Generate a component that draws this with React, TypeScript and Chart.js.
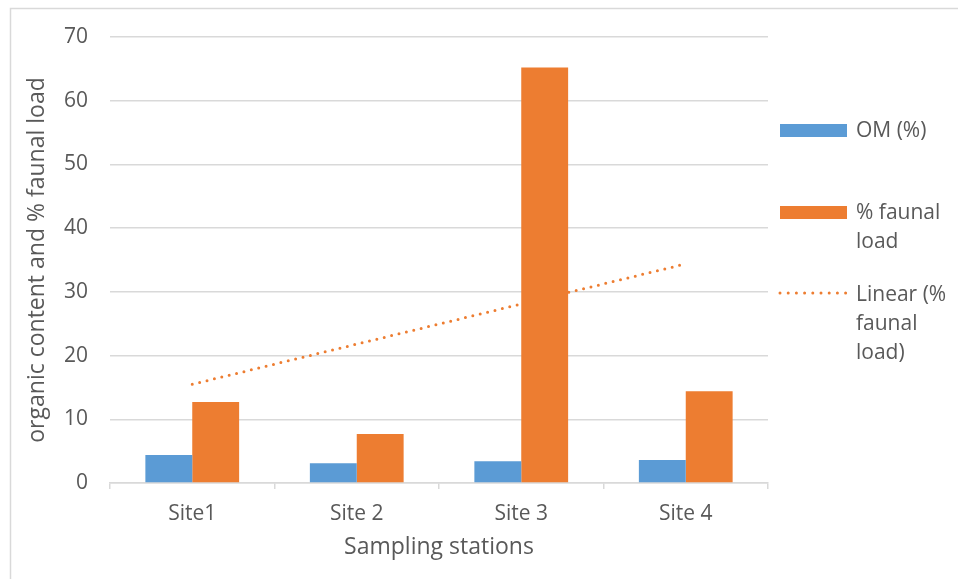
import React, { useEffect, useRef } from "react";
import { Chart, registerables } from "chart.js";

Chart.register(...registerables);

// Sampling stations and the measured series
const categories = ["Site1", "Site 2", "Site 3", "Site 4"];
const omValues = [4.4, 3.1, 3.4, 3.6];
const faunalValues = [12.7, 7.7, 65.2, 14.4];
// Linear trend of % faunal load, end points only (the line is straight between them)
const trendValues: (number | null)[] = [15.5, null, null, 34.4];

const seriesLabels = ["OM (%)", "% faunal load", "Linear (% faunal load)"];
const xTitle = "Sampling stations";
const yTitle = "organic content and % faunal load";
const yMin = 0;
const yMax = 70;
const yStep = 10;

const FONT = "'Open Sans', sans-serif";
const TEXT = "#595959";
const GRID = "#d9d9d9";
const BLUE = "#5B9BD5";
const ORANGE = "#ED7D31";

function wrapText(ctx: CanvasRenderingContext2D, text: string, maxWidth: number): string[] {
  const words = text.split(" ");
  const lines: string[] = [];
  let cur = "";
  for (const w of words) {
    const test = cur ? cur + " " + w : w;
    if (cur && ctx.measureText(test).width > maxWidth) {
      lines.push(cur);
      cur = w;
    } else {
      cur = test;
    }
  }
  if (cur) lines.push(cur);
  return lines;
}

// Thin frame around the chart
const framePlugin = {
  id: "frame",
  beforeDraw(chart: any) {
    const ctx = chart.ctx as CanvasRenderingContext2D;
    ctx.save();
    ctx.strokeStyle = GRID;
    ctx.lineWidth = 1.5;
    ctx.strokeRect(10.5, 8.5, 3000, 3000);
    ctx.restore();
  },
};

// Legend on the right with wrapped labels
const sideLegendPlugin = {
  id: "sideLegend",
  afterDraw(chart: any) {
    const ctx = chart.ctx as CanvasRenderingContext2D;
    ctx.save();
    ctx.font = `21px ${FONT}`;
    ctx.textBaseline = "middle";
    const swatchX = 780;
    const swatchW = 67;
    const textX = 856;
    const firstY = 131;
    const itemGap = 82;
    const lineH = 28.8;
    chart.data.datasets.forEach((ds: any, i: number) => {
      const y = firstY + i * itemGap;
      if (ds.type === "line") {
        ctx.strokeStyle = ds.borderColor;
        ctx.lineWidth = 3;
        ctx.lineCap = "round";
        ctx.setLineDash([0, 8.2]);
        ctx.beginPath();
        ctx.moveTo(swatchX, y - 2);
        ctx.lineTo(swatchX + swatchW, y - 2);
        ctx.stroke();
        ctx.setLineDash([]);
      } else {
        ctx.fillStyle = ds.backgroundColor;
        ctx.fillRect(swatchX, y - 7, swatchW, 13);
      }
      ctx.fillStyle = TEXT;
      const lines = wrapText(ctx, ds.label, 98);
      lines.forEach((ln, j) => ctx.fillText(ln, textX, y + j * lineH));
    });
    ctx.restore();
  },
};

export default function App() {
  const canvasRef = useRef<HTMLCanvasElement | null>(null);

  useEffect(() => {
    if (!canvasRef.current) return;
    const chart = new Chart(canvasRef.current, {
      type: "bar",
      data: {
        labels: categories,
        datasets: [
          {
            type: "bar",
            label: seriesLabels[0],
            data: omValues,
            backgroundColor: BLUE,
            categoryPercentage: 0.57,
            barPercentage: 1,
            order: 0,
          },
          {
            type: "bar",
            label: seriesLabels[1],
            data: faunalValues,
            backgroundColor: ORANGE,
            categoryPercentage: 0.57,
            barPercentage: 1,
            order: 0,
          },
          {
            type: "line",
            label: seriesLabels[2],
            data: trendValues,
            borderColor: ORANGE,
            backgroundColor: ORANGE,
            borderWidth: 3,
            borderCapStyle: "round",
            borderDash: [0, 7.6],
            pointRadius: 0,
            spanGaps: true,
            fill: false,
            order: 1,
          },
        ] as any,
      },
      options: {
        animation: false,
        responsive: false,
        devicePixelRatio: 1,
        layout: { padding: { top: 37, right: 190, bottom: 0, left: 0 } },
        plugins: {
          legend: { display: false },
          tooltip: { enabled: false },
        },
        scales: {
          x: {
            offset: true,
            grid: {
              offset: true,
              drawOnChartArea: false,
              drawTicks: true,
              tickLength: 6,
              color: GRID,
              lineWidth: 1.5,
            },
            border: { display: true, color: GRID, width: 1.5 },
            ticks: {
              color: TEXT,
              font: { family: FONT, size: 21 },
              padding: 12,
              maxRotation: 0,
            },
            title: {
              display: true,
              text: xTitle,
              color: TEXT,
              font: { family: FONT, size: 23 },
              padding: { top: 0, bottom: 18 },
            },
            afterFit: (scale: any) => {
              scale.height = 96;
            },
          },
          y: {
            min: yMin,
            max: yMax,
            ticks: {
              stepSize: yStep,
              color: TEXT,
              font: { family: FONT, size: 21 },
              padding: 22,
            },
            grid: {
              color: GRID,
              lineWidth: 1.5,
              drawTicks: false,
            },
            border: { display: false },
            title: {
              display: true,
              text: yTitle,
              color: TEXT,
              font: { family: FONT, size: 23 },
              padding: { top: 24, bottom: 0 },
            },
            afterFit: (scale: any) => {
              scale.width = 110;
            },
          },
        },
      } as any,
      plugins: [framePlugin, sideLegendPlugin],
    });
    return () => chart.destroy();
  }, []);

  return (
    <div style={{ position: "absolute", left: 0, top: 0, width: 958, height: 579, background: "#fff" }}>
      <canvas ref={canvasRef} width={958} height={579} style={{ display: "block", width: 958, height: 579 }} />
    </div>
  );
}
